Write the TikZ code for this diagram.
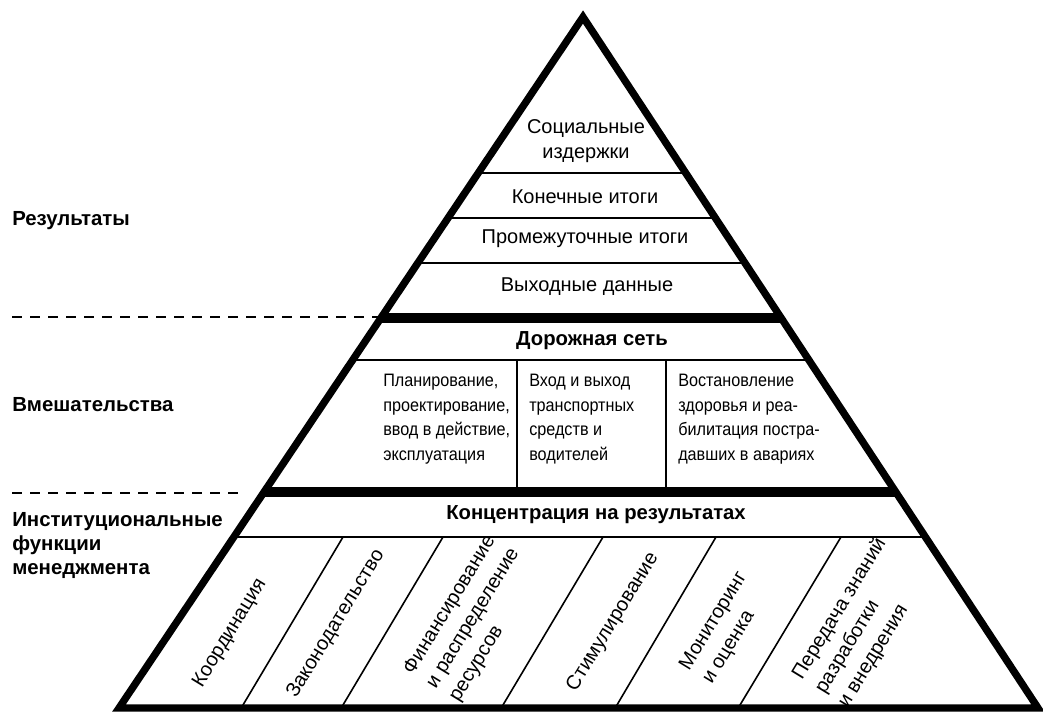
\documentclass[tikz,border=0pt]{standalone}
\usepackage{fontspec}
\setmainfont{Liberation Sans}
\newfontfamily\condfont[FakeStretch=0.9]{Liberation Sans}
\begin{document}
\begin{tikzpicture}[x=0.75pt,y=-0.75pt,
  outer/.style={line width=5.5pt, line join=miter, miter limit=10},
  bandline/.style={line width=7pt},
  thinline/.style={line width=1.2pt},
  dashline/.style={line width=1.1pt, dash pattern=on 7.5pt off 6pt},
  toptext/.style={font=\fontsize{15}{18.75}\selectfont, align=center, inner sep=0pt},
  midtext/.style={font=\condfont\fontsize{13.5}{18.4}\selectfont, align=left, inner sep=0pt, anchor=west},
  boldlabel/.style={font=\bfseries\fontsize{15.2}{18}\selectfont, inner sep=0pt},
  sidelabel/.style={font=\bfseries\fontsize{15.3}{18}\selectfont, align=left, inner sep=0pt, anchor=west},
  rottext/.style={font=\fontsize{15}{20}\selectfont, align=left, inner sep=0pt, rotate=58.6},
]
\useasboundingbox (0,0) rectangle (1043,711);
\coordinate (A) at (583,17);
\coordinate (L) at (119,708);
\coordinate (R) at (1038,708);

% dashed separators
\coordinate (d1s) at (12,317); \coordinate (d1e) at (382,317);
\coordinate (d2s) at (12,493); \coordinate (d2e) at (242,493);
\draw[dashline] (d1s) -- (d1e);
\draw[dashline] (d2s) -- (d2e);

% interior lines
\begin{scope}
\clip (A) -- (L) -- (R) -- cycle;
\foreach \yy in {173,218,263,360,537}{\draw[thinline] (0,\yy) -- (1043,\yy);}
\foreach \yy in {318,492}{\draw[bandline] (0,\yy) -- (1043,\yy);}
\coordinate (v1t) at (517,360); \coordinate (v1b) at (517,492);
\coordinate (v2t) at (666,360); \coordinate (v2b) at (666,492);
\draw[thinline] (v1t) -- (v1b);
\draw[thinline] (v2t) -- (v2b);
\foreach \xb/\xt in {240/343,340/443,500/603,614/716,737/841}{\draw[thinline] (\xb,710) -- (\xt,537);}
\end{scope}

% outline
\draw[outer] (A) -- (L) -- (R) -- cycle;

% top texts
\node[toptext] (soc) at (586,141) {Социальные\\издержки};
\node[toptext] (kon) at (585,197) {Конечные итоги};
\node[toptext] (prom) at (585,239) {Промежуточные итоги};
\node[toptext] (vyh) at (587,287) {Выходные данные};

% middle
\node[boldlabel] (dor) at (592,341) {Дорожная сеть};
\node[midtext] (plan) at (383,419) {Планирование,\\проектирование,\\ввод в действие,\\эксплуатация};
\node[midtext] (vhod) at (529,419) {Вход и выход\\транспортных\\средств и\\водителей};
\node[midtext] (vost) at (678,419) {Востановление\\здоровья и реа-\\билитация постра-\\давших в авариях};

% bottom
\node[boldlabel] (konc) at (596,515) {Концентрация на результатах};
\node[rottext] (koord) at (230,633) {Координация};
\node[rottext] (zak) at (336,624) {Законодательство};
\node[rottext, anchor=north west] (fin) at (401,668) {Финансирование\\и распределение\\ресурсов};
\node[rottext] (stim) at (613,622) {Стимулирование};
\node[rottext, anchor=north west] (mon) at (677,664) {Мониторинг\\и оценка};
\node[rottext, anchor=north west] (per) at (789,673) {Передача знаний\\разработки\\и внедрения};

% side labels
\node[sidelabel] (res) at (12,221) {Результаты};
\node[sidelabel] (vm) at (12,405) {Вмешательства};
\node[sidelabel] (inst) at (12,546) {Институциональные\\функции\\менеджмента};
\end{tikzpicture}
\end{document}
